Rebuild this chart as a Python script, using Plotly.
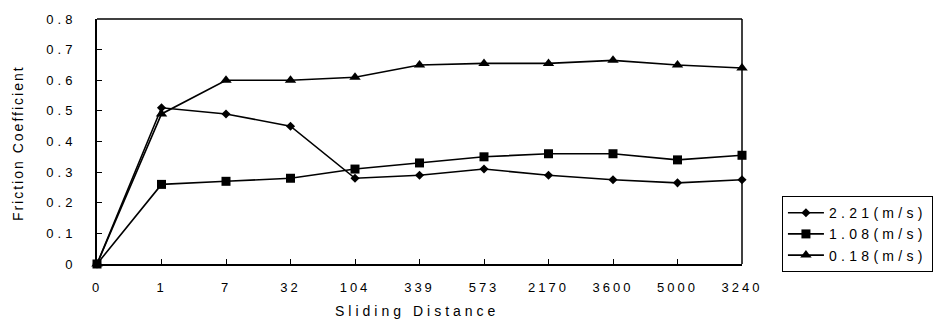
import plotly.graph_objects as go

# Sliding distance categories (in the order they were tested)
distance = ["0", "1", "7", "32", "104", "339", "573", "2170", "3600", "5000", "3240"]

# Friction coefficient for each sliding speed
mu_221 = [0, 0.51, 0.49, 0.45, 0.28, 0.29, 0.31, 0.29, 0.275, 0.265, 0.275]
mu_108 = [0, 0.26, 0.27, 0.28, 0.31, 0.33, 0.35, 0.36, 0.36, 0.34, 0.355]
mu_018 = [0, 0.49, 0.60, 0.60, 0.61, 0.65, 0.655, 0.655, 0.665, 0.65, 0.64]

series_names = ["2.21(m/s)", "1.08(m/s)", "0.18(m/s)"]
y_ticks = [0, 0.1, 0.2, 0.3, 0.4, 0.5, 0.6, 0.7, 0.8]
y_tick_text = ["0", "0.1", "0.2", "0.3", "0.4", "0.5", "0.6", "0.7", "0.8"]

FONT = "Liberation Sans, Arial, sans-serif"


def spaced(text, px):
    return f'<span style="letter-spacing:{px}px">{text}</span>'


W, H = 945, 325
L, R, T, B = 97, 202, 15, 61
plot_w = W - L - R
plot_h = H - T - B

fig = go.Figure()
for name, vals, sym, size in zip(
    series_names,
    [mu_221, mu_108, mu_018],
    ["diamond", "square", "triangle-up"],
    [7, 9, 10],
):
    fig.add_trace(go.Scatter(
        x=distance, y=vals, name=spaced(name, 4.3), mode="lines+markers",
        line=dict(color="black", width=1.6),
        marker=dict(symbol=sym, size=size, color="black"),
        cliponaxis=False,
    ))

fig.update_layout(
    width=W, height=H,
    margin=dict(l=L, r=R, t=T, b=B),
    paper_bgcolor="white", plot_bgcolor="white",
    font=dict(family=FONT, color="black", size=13),
    showlegend=True,
    legend=dict(
        x=(783 - L) / plot_w, y=(H - B - 195) / plot_h,
        xanchor="left", yanchor="top",
        bordercolor="black", borderwidth=1,
        font=dict(size=14, family=FONT, color="black"),
        tracegroupgap=0, itemwidth=36,
    ),
    xaxis=dict(
        type="category", range=[0, len(distance) - 1],
        tickmode="array", tickvals=distance,
        ticktext=[spaced(d, 3) for d in distance],
        ticks="inside", ticklen=5, tickcolor="black", tickwidth=1,
        showline=True, linecolor="black", linewidth=2,
        showgrid=False, zeroline=False,
        ticklabelstandoff=10,
    ),
    yaxis=dict(
        range=[0, 0.8], tickmode="array", tickvals=y_ticks,
        ticktext=[spaced(t, 4) for t in y_tick_text],
        ticks="inside", ticklen=5, tickcolor="black", tickwidth=1,
        showline=True, linecolor="black", linewidth=2,
        showgrid=False, zeroline=False,
        ticklabelstandoff=16,
    ),
    shapes=[
        dict(type="line", xref="paper", yref="paper", x0=0, x1=1, y0=1, y1=1,
             line=dict(color="black", width=1.5)),
        dict(type="line", xref="paper", yref="paper", x0=1, x1=1, y0=0, y1=1,
             line=dict(color="black", width=1.5)),
    ],
    annotations=[
        dict(text=spaced("Friction Coefficient", 2), xref="paper", yref="paper",
             x=(18.5 - L) / plot_w, y=(H - B - 141.5) / plot_h,
             xanchor="center", yanchor="middle", textangle=-90,
             showarrow=False, font=dict(size=14, family=FONT, color="black")),
        dict(text=spaced("Sliding Distance", 4), xref="paper", yref="paper",
             x=(417 - L) / plot_w, y=(H - B - 311.7) / plot_h,
             xanchor="center", yanchor="middle",
             showarrow=False, font=dict(size=14, family=FONT, color="black")),
    ],
)

fig.write_html("out.html")
